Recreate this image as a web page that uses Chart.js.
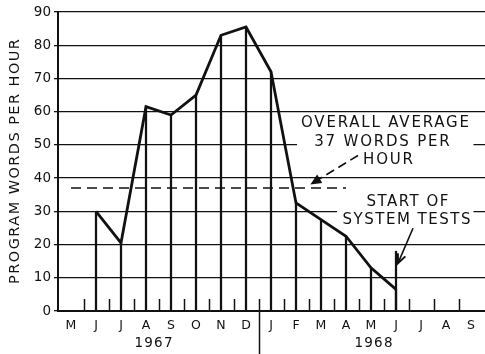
<!DOCTYPE html>
<html lang="en">
<head>
    <meta charset="UTF-8">
    <title>Program Words per Hour</title>
    <script src="https://cdn.jsdelivr.net/npm/chart.js"></script>
    <style>
        body { margin: 0; background: #fff; }
        canvas { display: block; }
    </style>
</head>
<body>
    <canvas id="wordsChart" width="485" height="354"></canvas>

    <script>
        // months May 1967 .. Sep 1968, plotted by index
        const months = ['M', 'J', 'J', 'A', 'S', 'O', 'N', 'D', 'J', 'F', 'M', 'A', 'M', 'J', 'J', 'A', 'S'];
        const years = ['1967', '1968'];

        // monthly production, Jun 1967 .. Jun 1968
        const dataMonths = [1, 2, 3, 4, 5, 6, 7, 8, 9, 10, 11, 12, 13];
        const wordsPerHour = [30, 20.5, 61.5, 59, 65, 83, 85.5, 72, 32.5, 27.5, 22.5, 13, 6.5];

        const overallAverage = 37;
        const averageSpan = [0, 11];

        const systemTestMonth = 13;
        const systemTestMarker = 18;

        const INK = '#111';
        const FONT = 'DejaVu Sans';

        const points = dataMonths.map((m, i) => ({ x: m, y: wordsPerHour[i] }));

        function drawText(ctx, text, x, y, size, spacing) {
            ctx.save();
            ctx.font = size + 'px "' + FONT + '"';
            ctx.letterSpacing = spacing + 'px';
            ctx.fillStyle = INK;
            ctx.textBaseline = 'middle';
            const w = ctx.measureText(text).width - spacing;
            ctx.fillText(text, x - w / 2, y);
            ctx.restore();
        }

        function arrowHead(ctx, x0, y0, x1, y1, len, filled) {
            const a = Math.atan2(y1 - y0, x1 - x0);
            const spread = 0.42;
            ctx.beginPath();
            ctx.moveTo(x1 - len * Math.cos(a - spread), y1 - len * Math.sin(a - spread));
            ctx.lineTo(x1, y1);
            ctx.lineTo(x1 - len * Math.cos(a + spread), y1 - len * Math.sin(a + spread));
            if (filled) {
                ctx.closePath();
                ctx.fill();
            }
            ctx.stroke();
        }

        const notes = {
            id: 'notes',
            beforeDatasetsDraw(chart) {
                const { ctx, scales: { x, y } } = chart;
                // clear the grid behind the two labels
                ctx.save();
                ctx.fillStyle = '#fff';
                ctx.fillRect(x.getPixelForValue(9.04), y.getPixelForValue(58.5),
                    x.getPixelForValue(16.1) - x.getPixelForValue(9.04), y.getPixelForValue(43) - y.getPixelForValue(58.5));
                ctx.fillRect(x.getPixelForValue(10.64), y.getPixelForValue(35.4),
                    x.getPixelForValue(16.1) - x.getPixelForValue(10.64), y.getPixelForValue(25) - y.getPixelForValue(35.4));
                ctx.restore();
            },
            afterDatasetsDraw(chart) {
                const { ctx, chartArea, scales: { x, y } } = chart;
                const base = y.getPixelForValue(0);
                ctx.save();
                ctx.strokeStyle = INK;
                ctx.fillStyle = INK;

                // short ticks between the months
                ctx.lineWidth = 1.5;
                for (let i = 0; i < months.length - 1; i++) {
                    const tx = Math.round(x.getPixelForValue(i + 0.5)) + 0.5;
                    ctx.beginPath();
                    ctx.moveTo(tx, base);
                    ctx.lineTo(tx, base - 12);
                    ctx.stroke();
                }

                // year divider
                const dx = Math.round(x.getPixelForValue(7.5)) + 0.5;
                ctx.beginPath();
                ctx.moveTo(dx, base);
                ctx.lineTo(dx, chart.height);
                ctx.stroke();

                drawText(ctx, years[0], x.getPixelForValue(3.3), 343, 13.5, 1.2);
                drawText(ctx, years[1], x.getPixelForValue(12.1), 343, 13.5, 1.2);

                // axis title
                ctx.save();
                ctx.translate(15, (chartArea.top + chartArea.bottom) / 2);
                ctx.rotate(-Math.PI / 2);
                drawText(ctx, 'PROGRAM WORDS PER HOUR', 0, 0, 14.5, 1.45);
                ctx.restore();

                // average label and its arrow
                drawText(ctx, 'OVERALL AVERAGE', x.getPixelForValue(12.56), y.getPixelForValue(56.5), 15, 1.8);
                drawText(ctx, '37 WORDS PER', x.getPixelForValue(12.44), y.getPixelForValue(50.8), 15, 1.8);
                drawText(ctx, 'HOUR', x.getPixelForValue(12.68), y.getPixelForValue(45.3), 15, 1.8);

                let ax0 = x.getPixelForValue(11.48), ay0 = y.getPixelForValue(46.8);
                let ax1 = x.getPixelForValue(9.64), ay1 = y.getPixelForValue(overallAverage + 1.4);
                ctx.lineWidth = 1.6;
                ctx.setLineDash([9, 5]);
                ctx.beginPath();
                ctx.moveTo(ax0, ay0);
                ctx.lineTo(ax1, ay1);
                ctx.stroke();
                ctx.setLineDash([]);
                arrowHead(ctx, ax0, ay0, ax1, ay1, 9, true);

                // system test label and its arrow
                drawText(ctx, 'START OF', x.getPixelForValue(13.46), y.getPixelForValue(32.7), 15, 1.5);
                drawText(ctx, 'SYSTEM TESTS', x.getPixelForValue(13.42), y.getPixelForValue(27.3), 15, 1.5);

                ax0 = x.getPixelForValue(13.68); ay0 = y.getPixelForValue(24.9);
                ax1 = x.getPixelForValue(13.08); ay1 = y.getPixelForValue(14.4);
                ctx.lineWidth = 1.6;
                ctx.beginPath();
                ctx.moveTo(ax0, ay0);
                ctx.lineTo(ax1, ay1);
                ctx.stroke();
                ctx.lineWidth = 2;
                arrowHead(ctx, ax0, ay0, ax1, ay1, 10, false);

                ctx.restore();
            }
        };

        new Chart(document.getElementById('wordsChart'), {
            type: 'bar',
            data: {
                datasets: [{
                    type: 'line',
                    label: 'Program words per hour',
                    data: points,
                    borderColor: INK,
                    borderWidth: 2.8,
                    borderJoinStyle: 'miter',
                    pointRadius: 0,
                    tension: 0,
                    fill: false
                },
                {
                    type: 'line',
                    label: 'Overall average',
                    data: averageSpan.map(m => ({ x: m, y: overallAverage })),
                    borderColor: INK,
                    borderWidth: 1.5,
                    borderDash: [10, 6],
                    pointRadius: 0,
                    fill: false
                },
                {
                    label: 'Drop lines',
                    data: points,
                    backgroundColor: INK,
                    barThickness: 1.6,
                    grouped: false
                },
                {
                    label: 'Start of system tests',
                    data: [{ x: systemTestMonth, y: systemTestMarker }],
                    backgroundColor: INK,
                    barThickness: 1.6,
                    grouped: false
                }]
            },
            options: {
                responsive: false,
                animation: false,
                devicePixelRatio: 1,
                layout: { padding: { top: 12, left: 0, right: 0, bottom: 0 } },
                plugins: {
                    legend: { display: false },
                    tooltip: { enabled: false }
                },
                scales: {
                    x: {
                        type: 'linear',
                        min: -0.52,
                        max: 16.56,
                        offset: false,
                        afterBuildTicks: s => { s.ticks = months.map((m, i) => ({ value: i })); },
                        afterFit: s => { s.height = 43; },
                        ticks: {
                            callback: v => months[v],
                            autoSkip: false,
                            maxRotation: 0,
                            padding: 7,
                            color: INK,
                            font: { family: FONT, size: 12.5 }
                        },
                        grid: { display: false, drawTicks: false },
                        border: { color: INK, width: 2 }
                    },
                    y: {
                        min: 0,
                        max: 90,
                        afterFit: s => { s.width = 58; },
                        ticks: {
                            stepSize: 10,
                            padding: 3,
                            color: INK,
                            font: { family: FONT, size: 13.5 }
                        },
                        grid: { color: INK, lineWidth: 1.3, tickLength: 4 },
                        border: { color: INK, width: 2 }
                    }
                }
            },
            plugins: [notes]
        });
    </script>
</body>
</html>
